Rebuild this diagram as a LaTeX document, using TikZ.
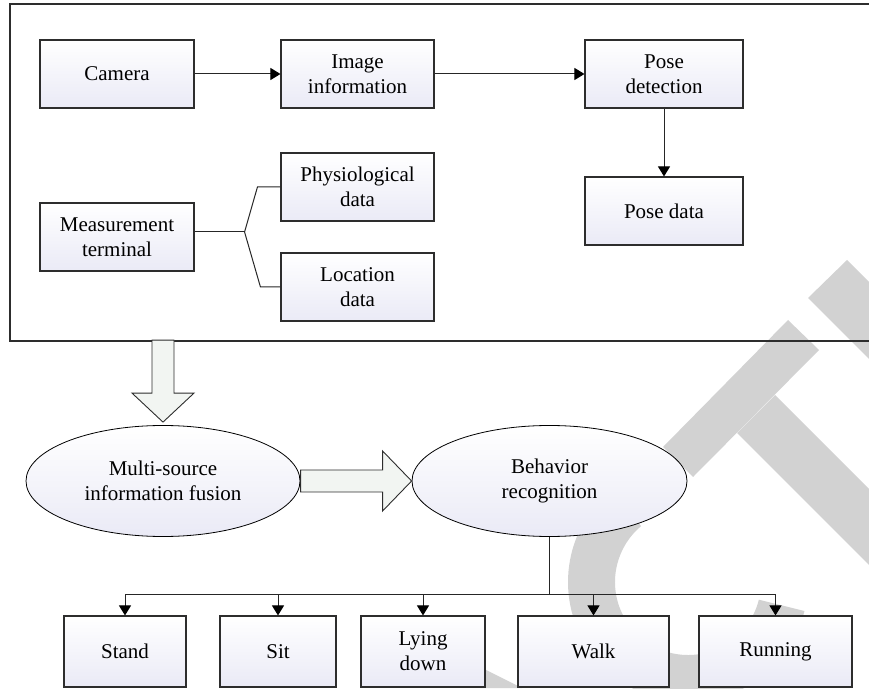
\documentclass[tikz,border=0pt]{standalone}
\usepackage{fontspec}
\setmainfont{Liberation Serif}
\usetikzlibrary{arrows.meta,shapes.geometric}
\definecolor{edge}{RGB}{45,45,45}
\definecolor{wmark}{RGB}{210,210,210}
\definecolor{boxlow}{RGB}{234,234,246}
\definecolor{fatfill}{RGB}{242,245,242}
\begin{document}
\begin{tikzpicture}[x=1pt,y=1pt,
    box/.style={draw=edge, line width=1.1pt, top color=white, bottom color=boxlow,
      minimum height=68pt, inner sep=2pt, align=center, font=\fontsize{21}{25}\selectfont},
    oval/.style={ellipse, draw=black, line width=0.8pt, top color=white, bottom color=boxlow,
      minimum width=274pt, minimum height=111pt, inner sep=0pt, align=center,
      font=\fontsize{21}{25}\selectfont},
    wire/.style={draw=black!85, line width=1pt},
    arr/.style={wire, -{Triangle[length=10pt,width=12pt,black]}},
    fat/.style={draw=edge, line width=0.9pt, fill=fatfill, line join=miter}]
    \useasboundingbox (0,0) rectangle (869,688);
    \clip (0,0) rectangle (869,688);

    \fill[wmark] (663,241) -- (788,368) -- (819,338) -- (693,211) -- cycle;
    \fill[wmark] (737,255) -- (775,293) -- (925,143) -- (887,105) -- cycle;
    \fill[wmark] (808,390) -- (847,428) -- (947,328) -- (908,290) -- cycle;
    \fill[wmark] (688,106) ++(130:120pt) arc[start angle=130, end angle=346, radius=120pt]
      -- ++(166:47pt) arc[start angle=346, end angle=130, radius=73pt] -- cycle;
    \fill[wmark] (480,21) -- (522,0) -- (480,0) -- cycle;

    \node[draw=edge, line width=1.2pt, minimum width=870pt, minimum height=337pt, inner sep=0pt] (frame) at (445,515.5) {};

    \node[box, minimum width=154pt] (cam) at (117,614) {Camera};
    \node[box, minimum width=153pt] (img) at (357.5,614) {Image\\information};
    \node[box, minimum width=158pt] (pose) at (664,614) {Pose\\detection};
    \node[box, minimum width=158pt] (posedata) at (664,477) {Pose data};
    \node[box, minimum width=154pt] (meas) at (117,451) {Measurement\\terminal};
    \node[box, minimum width=153pt] (phys) at (357.5,501) {Physiological\\data};
    \node[box, minimum width=153pt] (loc) at (357.5,401) {Location\\data};

    \draw[arr] (cam) -- (img);
    \draw[arr] (img) -- (pose);
    \draw[arr] (pose) -- (posedata);
    \draw[wire] ([yshift=5pt]meas.east) -- ++(50,0) coordinate (split);
    \draw[wire] (phys.west) -- ++(-23,0) -- (split) -- ([xshift=-20pt]loc.west) -- (loc.west);

    \node[oval] (fusion) at (163,207) {Multi-source\\information fusion};
    \node[oval, minimum width=275pt] (behav) at (549.5,207) {Behavior\\recognition};

    \draw[fat] ([yshift=3pt]fusion.north) -- ++(31,29) -- ++(-20,0) -- ++(0,53)
      -- ++(-22,0) -- ++(0,-53) -- ++(-20,0) -- cycle;
    \draw[fat] (behav.west) -- ++(-29,30) -- ++(0,-19) -- ++(-82,0) -- ++(0,-22)
      -- ++(82,0) -- ++(0,-19) -- cycle;

    \node[box, minimum width=122pt, minimum height=71pt] (stand) at (125,36.5) {Stand};
    \node[box, minimum width=116pt, minimum height=71pt] (sit) at (278,36.5) {Sit};
    \node[box, minimum width=124pt, minimum height=71pt] (lying) at (423,36.5) {Lying\\down};
    \node[box, minimum width=151pt, minimum height=71pt] (walk) at (593.5,36.5) {Walk};
    \node[box, minimum width=153pt, minimum height=71pt] (run) at (775.5,36.5) {Running};

    \draw[wire] (behav.south) -- ++(0,-58) coordinate (bus);
    \draw[wire] (bus -| stand.north) -- (bus -| run.north);
    \foreach \b in {stand,sit,lying,walk,run}
      \draw[arr] (bus -| \b.north) -- (\b.north);
\end{tikzpicture}
\end{document}
